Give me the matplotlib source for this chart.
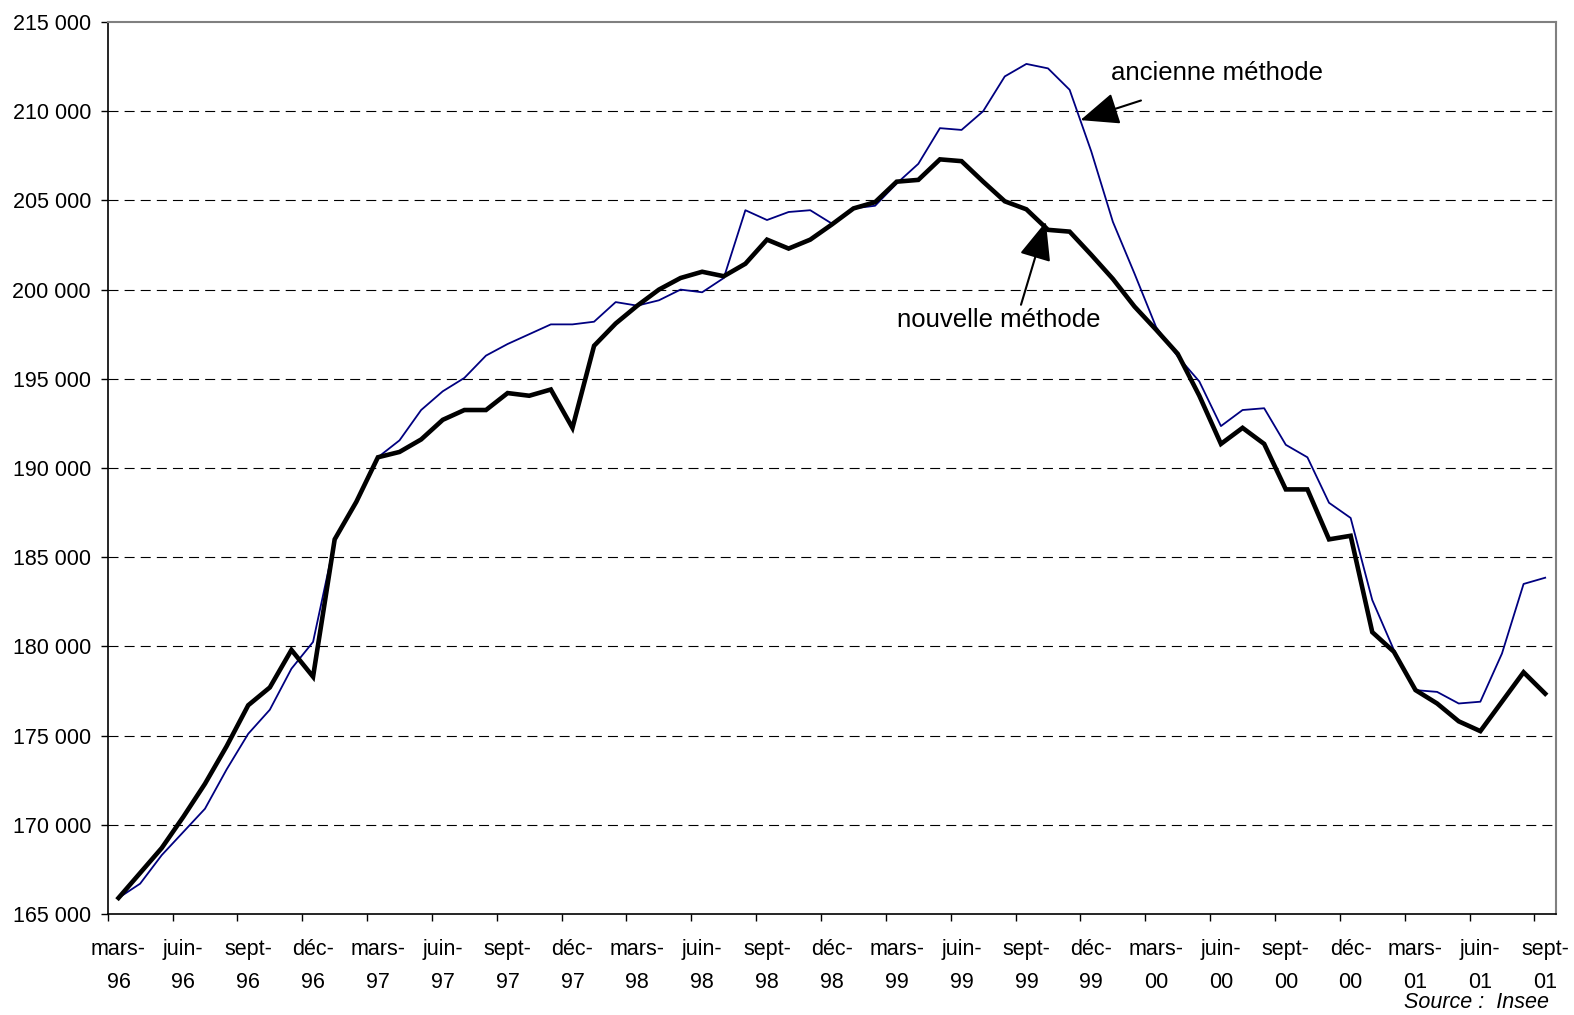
import matplotlib.pyplot as plt

# =============================
# Données (mars 1996 - sept. 2001, mensuel)
# =============================

mois_abr = ["janv", "févr", "mars", "avr", "mai", "juin",
            "juil", "août", "sept", "oct", "nov", "déc"]

nouvelle_methode = [
    165900, 167300, 168700, 170450, 172300, 174400, 176700, 177700, 179800, 178300,
    186000, 188100, 190600, 190900, 191600, 192700, 193250, 193250, 194200, 194050,
    194400, 192250, 196850, 198100, 199100, 200000, 200650, 201000, 200750, 201450,
    202800, 202300, 202800, 203650, 204550, 204900, 206050, 206150, 207300, 207200,
    206050, 204950, 204500, 203350, 203250, 201950, 200600, 199050, 197750, 196400,
    194050, 191350, 192250, 191350, 188800, 188800, 186000, 186200, 180800, 179700,
    177550, 176800, 175800, 175250, 176900, 178550, 177350,
]

ancienne_methode = [
    165900, 166700, 168300, 169600, 170900, 173100, 175100, 176450, 178750, 180250,
    185900, 188100, 190600, 191550, 193250, 194300, 195050, 196300, 196950, 197500,
    198050, 198050, 198200, 199300, 199100, 199400, 200000, 199850, 200650, 204450,
    203900, 204350, 204450, 203700, 204550, 204700, 205950, 207050, 209050, 208950,
    210000, 211950, 212650, 212400, 211200, 207750, 203800, 200900, 197900, 196250,
    194850, 192350, 193250, 193350, 191300, 190600, 188050, 187200, 182600, 179800,
    177550, 177450, 176800, 176900, 179600, 183500, 183850,
]

graduations_y = [165000, 170000, 175000, 180000, 185000, 190000,
                 195000, 200000, 205000, 210000, 215000]

# categories "mars-96" ... "sept-01"
categories = []
for k in range(len(nouvelle_methode)):
    m = (2 + k) % 12
    a = (1996 + (2 + k) // 12) % 100
    categories.append(f"{mois_abr[m]}-{a:02d}")

plt.rcParams["font.family"] = ["Liberation Sans", "DejaVu Sans"]

fig = plt.figure(figsize=(15.74, 10.15), dpi=100)
ax = fig.add_axes([107.7 / 1574, 1 - 914 / 1015, (1556 - 107.7) / 1574, (914 - 22) / 1015])

x = list(range(len(categories)))

# grille horizontale pointillée
for v in graduations_y[1:-1]:
    ax.axhline(v, color="black", lw=0.8, linestyle=(0, (9, 5.5)), zorder=1)

ax.plot(x, ancienne_methode, color="#000080", lw=1.3, zorder=3)
ax.plot(x, nouvelle_methode, color="black", lw=3.3, zorder=4,
        solid_joinstyle="miter")

ax.set_xlim(-0.5, len(categories) - 0.5)
ax.set_ylim(165000, 215000)

# axe des y
ax.set_yticks(graduations_y)
ax.set_yticklabels([f"{v:,}".replace(",", " ") for v in graduations_y], fontsize=15.5)
ax.tick_params(axis="y", direction="out", length=5, width=1, pad=7)

# axe des x : traits entre catégories, étiquettes tous les 3 mois
ax.set_xticks([i - 0.5 for i in range(0, len(categories), 3)])
ax.set_xticklabels([])
ax.set_xticks(x[::3], minor=True)
ax.set_xticklabels([c.replace("-", "-\n") for c in categories[::3]],
                   minor=True, fontsize=15.5, linespacing=1.72)
ax.tick_params(axis="x", which="major", direction="out", length=5, width=1)
ax.tick_params(axis="x", which="minor", length=0, pad=18)

for s in ["left", "bottom"]:
    ax.spines[s].set_color("black")
    ax.spines[s].set_linewidth(1.2)
for s in ["top", "right"]:
    ax.spines[s].set_color("#808080")
    ax.spines[s].set_linewidth(1.5)

# annotations
fleche = dict(arrowstyle="-|>,head_length=1.2,head_width=0.5", color="black",
              lw=1.5, mutation_scale=20, shrinkA=0, shrinkB=0)
ax.annotate("", xy=(44.5, 209500), xytext=(47.3, 210600), arrowprops=fleche, zorder=6)
ax.text(50.8, 212150, "ancienne méthode", fontsize=18.5, ha="center", va="center")
ax.annotate("", xy=(42.9, 203800), xytext=(41.75, 199150), arrowprops=fleche, zorder=6)
ax.text(40.7, 198300, "nouvelle méthode", fontsize=18.5, ha="center", va="center")

fig.text(1549 / 1574, 1 - 1002 / 1015, "Source :  Insee", fontsize=15.5,
         style="italic", ha="right", va="center")

fig.savefig("out.png", dpi=100)
